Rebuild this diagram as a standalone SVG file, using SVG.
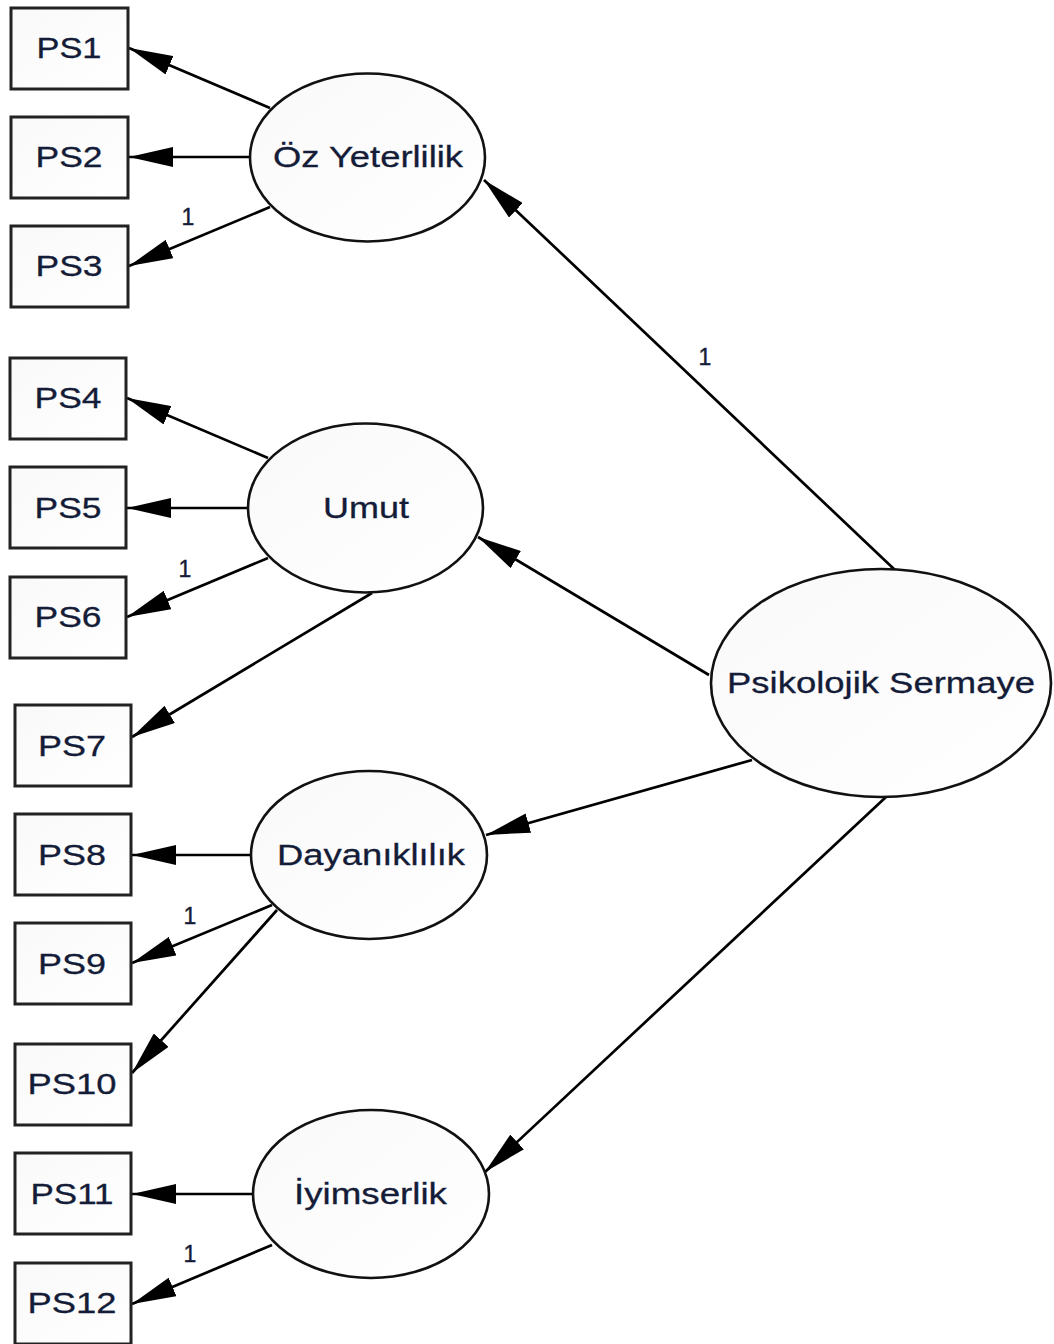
<svg xmlns="http://www.w3.org/2000/svg" width="1054" height="1344" viewBox="0 0 1054 1344">
  <defs>
    <linearGradient id="fillGrad" x1="0" y1="0" x2="1" y2="1">
      <stop offset="0" stop-color="#f9f9f9"/>
      <stop offset="1" stop-color="#ffffff"/>
    </linearGradient>
    <marker id="arrow" markerUnits="userSpaceOnUse" markerWidth="44" markerHeight="20" refX="44" refY="10" orient="auto">
      <path d="M0,0 L44,10 L0,20 Z" fill="#000"/>
    </marker>
  </defs>
  <style>
    .box { fill: url(#fillGrad); stroke: #222; stroke-width: 3; }
    .latent { fill: url(#fillGrad); stroke: #111; stroke-width: 2.6; }
    .lbl { font-family: "Liberation Sans", Arial, sans-serif; font-size: 29px; fill: #141c38; stroke: #141c38; stroke-width: 0.3; text-anchor: middle; }
    .w { font-family: "Liberation Sans", Arial, sans-serif; font-size: 23px; fill: #141c38; stroke: #141c38; stroke-width: 0.4; text-anchor: middle; }
    .edge { stroke: #000; stroke-width: 2.7; fill: none; marker-end: url(#arrow); }
  </style>
  <rect width="1054" height="1344" fill="#fff"/>

  <!-- connectors -->
  <g id="connectors">
    <line class="edge" x1="270" y1="108" x2="129" y2="48"/>
    <line class="edge" x1="250" y1="157" x2="129" y2="157"/>
    <line class="edge" x1="270" y1="207" x2="129" y2="266"/>

    <line class="edge" x1="268" y1="458" x2="127" y2="398"/>
    <line class="edge" x1="248" y1="508" x2="127" y2="508"/>
    <line class="edge" x1="268" y1="558" x2="127" y2="617"/>
    <line class="edge" x1="372" y1="593" x2="132" y2="737"/>

    <line class="edge" x1="251" y1="855" x2="132" y2="855"/>
    <line class="edge" x1="272" y1="905" x2="132" y2="963"/>
    <line class="edge" x1="277" y1="910" x2="132" y2="1073"/>

    <line class="edge" x1="252" y1="1194" x2="132" y2="1194"/>
    <line class="edge" x1="272" y1="1245" x2="132" y2="1304"/>

    <line class="edge" x1="895" y1="570" x2="484" y2="180"/>
    <line class="edge" x1="709" y1="675" x2="478" y2="537"/>
    <line class="edge" x1="752" y1="760" x2="486" y2="835"/>
    <line class="edge" x1="886" y1="797" x2="485" y2="1172"/>

    <!-- fixed loadings -->
    <text class="w" x="188" y="225">1</text>
    <text class="w" x="185" y="577">1</text>
    <text class="w" x="190" y="924">1</text>
    <text class="w" x="190" y="1262">1</text>
    <text class="w" x="705" y="365">1</text>
  </g>

  <!-- observed indicators -->
  <g id="PS1"><rect class="box" x="11" y="8" width="117" height="81"/><text class="lbl" x="69" y="58" textLength="65" lengthAdjust="spacingAndGlyphs">PS1</text></g>
  <g id="PS2"><rect class="box" x="11" y="117" width="117" height="81"/><text class="lbl" x="69" y="167" textLength="67" lengthAdjust="spacingAndGlyphs">PS2</text></g>
  <g id="PS3"><rect class="box" x="11" y="226" width="117" height="81"/><text class="lbl" x="69" y="276" textLength="67" lengthAdjust="spacingAndGlyphs">PS3</text></g>

  <g id="PS4"><rect class="box" x="10" y="358" width="116" height="81"/><text class="lbl" x="68" y="408" textLength="67" lengthAdjust="spacingAndGlyphs">PS4</text></g>
  <g id="PS5"><rect class="box" x="10" y="467" width="116" height="81"/><text class="lbl" x="68" y="518" textLength="67" lengthAdjust="spacingAndGlyphs">PS5</text></g>
  <g id="PS6"><rect class="box" x="10" y="577" width="116" height="81"/><text class="lbl" x="68" y="627" textLength="67" lengthAdjust="spacingAndGlyphs">PS6</text></g>
  <g id="PS7"><rect class="box" x="15" y="705" width="116" height="81"/><text class="lbl" x="72" y="756" textLength="68" lengthAdjust="spacingAndGlyphs">PS7</text></g>

  <g id="PS8"><rect class="box" x="15" y="814" width="116" height="81"/><text class="lbl" x="72" y="865" textLength="68" lengthAdjust="spacingAndGlyphs">PS8</text></g>
  <g id="PS9"><rect class="box" x="15" y="923" width="116" height="81"/><text class="lbl" x="72" y="974" textLength="68" lengthAdjust="spacingAndGlyphs">PS9</text></g>
  <g id="PS10"><rect class="box" x="15" y="1044" width="116" height="81"/><text class="lbl" x="72" y="1094" textLength="89" lengthAdjust="spacingAndGlyphs">PS10</text></g>
  <g id="PS11"><rect class="box" x="15" y="1153" width="116" height="81"/><text class="lbl" x="72" y="1204" textLength="83" lengthAdjust="spacingAndGlyphs">PS11</text></g>
  <g id="PS12"><rect class="box" x="15" y="1263" width="116" height="81"/><text class="lbl" x="72" y="1313" textLength="89" lengthAdjust="spacingAndGlyphs">PS12</text></g>

  <!-- latent factors -->
  <g id="OzYeterlilik"><ellipse class="latent" cx="367.5" cy="157.5" rx="117.5" ry="84"/><text class="lbl" x="368" y="167" textLength="190" lengthAdjust="spacingAndGlyphs">Öz Yeterlilik</text></g>
  <g id="Umut"><ellipse class="latent" cx="365.5" cy="508" rx="117.5" ry="84.5"/><text class="lbl" x="366" y="518" textLength="86" lengthAdjust="spacingAndGlyphs">Umut</text></g>
  <g id="Dayaniklilik"><ellipse class="latent" cx="369" cy="855" rx="118" ry="84"/><text class="lbl" x="371" y="865" textLength="188" lengthAdjust="spacingAndGlyphs">Dayanıklılık</text></g>
  <g id="Iyimserlik"><ellipse class="latent" cx="371" cy="1194" rx="118" ry="84"/><text class="lbl" x="370.5" y="1204" textLength="153" lengthAdjust="spacingAndGlyphs">İyimserlik</text></g>

  <g id="PsikolojikSermaye"><ellipse class="latent" cx="881" cy="683" rx="170" ry="114"/><text class="lbl" x="881" y="693" textLength="308" lengthAdjust="spacingAndGlyphs">Psikolojik Sermaye</text></g>
</svg>
